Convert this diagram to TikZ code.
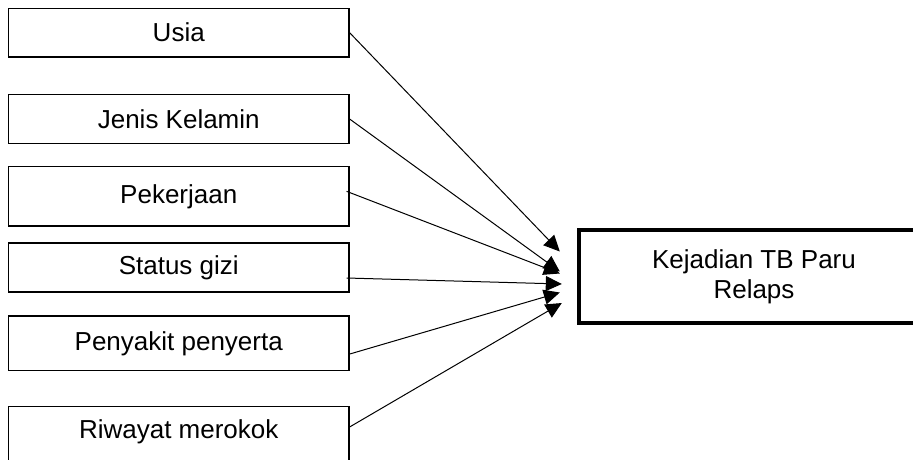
\documentclass[tikz,border=0pt]{standalone}
\usepackage{fontspec}
\setmainfont{Liberation Sans}
\usetikzlibrary{arrows.meta,calc}
\begin{document}
\begin{tikzpicture}[x=1pt,y=-1pt,
  font=\fontsize{26}{30}\selectfont,
  factor/.style={draw, line width=1.2pt, minimum width=340.5pt, inner sep=0pt},
  outcome/.style={minimum width=350pt, minimum height=93pt, align=center, inner sep=0pt},
  link/.style={line width=1pt, -{Triangle[length=16pt,width=15pt]}}]
  % page frame; the last box and the outcome box run past its edges
  \useasboundingbox (0,0) rectangle (913,459);
  \clip (0,0) rectangle (913,459);

  % factor boxes
  \node[factor, minimum height=48.7pt] (b1) at (178.75,32.65) {Usia};
  \node[factor, minimum height=49pt]   (b2) at (178.75,119)   {Jenis Kelamin};
  \node[factor, minimum height=59.3pt] (b3) at (178.75,196.35) {Pekerjaan};
  \node[factor, minimum height=49pt]   (b4) at (178.75,267.5) {Status gizi};
  \node[factor, minimum height=54.7pt] (b5) at (178.75,343.35) {Penyakit penyerta};
  \node[factor, anchor=north, text height=31.5pt, text depth=45pt] (b6) at (178.75,406) {Riwayat merokok};

  % outcome box: its right side lies beyond the page edge
  \node[outcome] (k) at (754,276.5) {Kejadian TB Paru\\Relaps};
  \draw[line width=4.3pt] (k.north east) -- (k.north west) -- (k.south west) -- (k.south east);

  % arrows into the outcome
  \draw[link] (b1.east) -- ($(k.west)+(-19,-25)$);
  \draw[link] (b2.east) -- ($(k.west)+(-19,-5)$);
  \draw[link] ($(b3.east)+(-3,-5)$) -- ($(k.west)+(-19,-3)$);
  \draw[link] ($(b4.east)+(-3,10.5)$) -- ($(k.west)+(-17,7.5)$);
  \draw[link] ($(b5.east)+(0,10.7)$) -- ($(k.west)+(-19,16)$);
  \draw[link] ($(b6.north east)+(0,21)$) -- ($(k.west)+(-17,26.5)$);
\end{tikzpicture}
\end{document}
